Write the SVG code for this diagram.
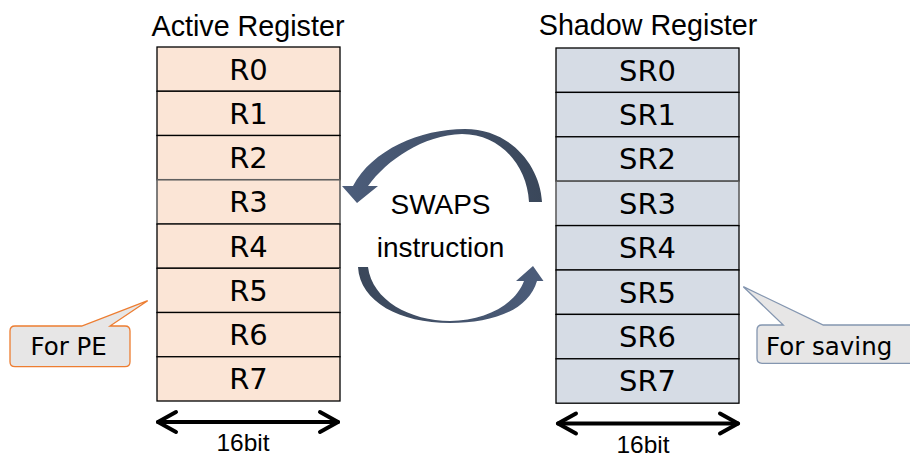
<svg xmlns="http://www.w3.org/2000/svg" width="910" height="457" viewBox="0 0 910 457">
  <style>
    .title { font-family: "Liberation Sans", Arial, sans-serif; font-size: 28.7px; fill: #000; text-anchor: middle; }
    .reg { font-family: "DejaVu Sans", Verdana, sans-serif; font-size: 29px; fill: #000; text-anchor: middle; }
    .act { fill: #FBE5D6; stroke: #000; stroke-width: 1.3; }
    .act-g { fill: #FBE5D6; stroke: #5f5f5f; stroke-width: 1.6; }
    .shd { fill: #D6DCE5; stroke: #000; stroke-width: 1.3; }
    .shd-g { fill: #D6DCE5; stroke: #5f5f5f; stroke-width: 1.6; }
    .mid { font-family: "Liberation Sans", Arial, sans-serif; font-size: 28px; fill: #000; text-anchor: middle; }
    .width { font-family: "Liberation Sans", Arial, sans-serif; font-size: 24.5px; fill: #000; text-anchor: middle; }
    .dbl { fill: none; stroke: #000; stroke-width: 4; stroke-linecap: round; stroke-linejoin: round; }
    .note { font-family: "DejaVu Sans", Verdana, sans-serif; font-size: 24.5px; fill: #000; }
  </style>
  <defs>
    <linearGradient id="arcTop" x1="1" y1="0" x2="0" y2="0">
      <stop offset="0" stop-color="#3A475A"/>
      <stop offset="1" stop-color="#4C5D7B"/>
    </linearGradient>
    <linearGradient id="arcBottom" x1="0" y1="0" x2="1" y2="0">
      <stop offset="0" stop-color="#3A475A"/>
      <stop offset="1" stop-color="#4C5D7B"/>
    </linearGradient>
  </defs>

  <rect width="910" height="457" fill="#fff"/>

  <!-- Active register file -->
  <g id="active-register">
    <text class="title" x="248" y="36">Active Register</text>
    <g id="R0"><rect class="act" x="157" y="47" width="183" height="44.25"/><text class="reg" x="248.5" y="79.5">R0</text></g>
    <g id="R1"><rect class="act" x="157" y="91.25" width="183" height="44.25"/><text class="reg" x="248.5" y="123.7">R1</text></g>
    <g id="R2"><rect class="act" x="157" y="135.5" width="183" height="44.25"/><text class="reg" x="248.5" y="168">R2</text></g>
    <g id="R3"><rect class="act-g" x="157" y="179.75" width="183" height="44.25"/><text class="reg" x="248.5" y="212.2">R3</text></g>
    <g id="R4"><rect class="act" x="157" y="224" width="183" height="44.25"/><text class="reg" x="248.5" y="256.5">R4</text></g>
    <g id="R5"><rect class="act" x="157" y="268.25" width="183" height="44.25"/><line x1="340" y1="268.25" x2="340" y2="312.5" stroke="#6f6f6f" stroke-width="1.8"/><text class="reg" x="248.5" y="300.7">R5</text></g>
    <g id="R6"><rect class="act" x="157" y="312.5" width="183" height="44.25"/><text class="reg" x="248.5" y="345">R6</text></g>
    <g id="R7"><rect class="act" x="157" y="356.75" width="183" height="44.25"/><text class="reg" x="248.5" y="389.2">R7</text></g>
  </g>

  <!-- Shadow register file -->
  <g id="shadow-register">
    <text class="title" x="648" y="35">Shadow Register</text>
    <g id="SR0"><rect class="shd" x="556" y="48" width="183" height="44.4"/><text class="reg" x="647.5" y="80.5">SR0</text></g>
    <g id="SR1"><rect class="shd" x="556" y="92.4" width="183" height="44.4"/><text class="reg" x="647.5" y="124.9">SR1</text></g>
    <g id="SR2"><rect class="shd" x="556" y="136.8" width="183" height="44.4"/><text class="reg" x="647.5" y="169.3">SR2</text></g>
    <g id="SR3"><rect class="shd-g" x="556" y="181.2" width="183" height="44.4"/><text class="reg" x="647.5" y="213.7">SR3</text></g>
    <g id="SR4"><rect class="shd" x="556" y="225.6" width="183" height="44.4"/><text class="reg" x="647.5" y="258.1">SR4</text></g>
    <g id="SR5"><rect class="shd" x="556" y="270" width="183" height="44.4"/><text class="reg" x="647.5" y="302.5">SR5</text></g>
    <g id="SR6"><rect class="shd" x="556" y="314.4" width="183" height="44.4"/><text class="reg" x="647.5" y="346.9">SR6</text></g>
    <g id="SR7"><rect class="shd" x="556" y="358.8" width="183" height="44.4"/><text class="reg" x="647.5" y="391.3">SR7</text></g>
  </g>

  <!-- Swap instruction label -->
  <g id="swaps">
    <text class="mid" x="440.5" y="214">SWAPS</text>
    <text class="mid" x="440.5" y="257">instruction</text>
  </g>

  <!-- Connectors: swap arcs and width arrows -->
  <g id="connectors">
    <path id="arc-to-active" fill="url(#arcTop)"
          d="M 542,202 C 540,165 510,129 465,129 C 420,129 372,150 353,186 L 342,186 L 357,203 L 378,186 L 368,186 C 387,160 423,135 462,134 C 500,134 527,165 529,202 Z"/>
    <path id="arc-to-shadow" fill="url(#arcBottom)"
          d="M 358,267 C 360,302 400,323 450,323 C 490,323 528,312 537,281 L 543.5,281 L 533,266 L 516,281 L 524,281 C 515,305 485,320.5 450,321 C 410,321 372,300 368,267 Z"/>

    <g id="width-active">
      <line class="dbl" x1="158" y1="422" x2="338" y2="422"/>
      <polyline class="dbl" points="176,412 158,422 176,432"/>
      <polyline class="dbl" points="320,412 338,422 320,432"/>
    </g>
    <g id="width-shadow">
      <line class="dbl" x1="558" y1="423.5" x2="738" y2="423.5"/>
      <polyline class="dbl" points="576,413.5 558,423.5 576,433.5"/>
      <polyline class="dbl" points="720,413.5 738,423.5 720,433.5"/>
    </g>
  </g>

  <text class="width" x="243" y="451">16bit</text>
  <text class="width" x="643" y="452.5">16bit</text>

  <!-- Callouts -->
  <g id="note-pe">
    <path d="M 15,326 L 81.7,326 L 147.7,300.7 L 110,326 L 125,326 Q 130,326 130,331 L 130,361.7 Q 130,366.7 125,366.7 L 15,366.7 Q 10,366.7 10,361.7 L 10,331 Q 10,326 15,326 Z"
          fill="#E7E6E6" stroke="#ED7D31" stroke-width="1.3"/>
    <text class="note" x="30.5" y="355">For PE</text>
  </g>
  <g id="note-saving">
    <path d="M 762,325 L 783.3,325 L 743.3,286.7 L 823.3,325 L 925,325 L 925,363.3 L 762,363.3 Q 757,363.3 757,358.3 L 757,330 Q 757,325 762,325 Z"
          fill="#E7E6E6" stroke="#8496B0" stroke-width="1.3"/>
    <text class="note" x="766" y="355">For saving</text>
  </g>
</svg>
